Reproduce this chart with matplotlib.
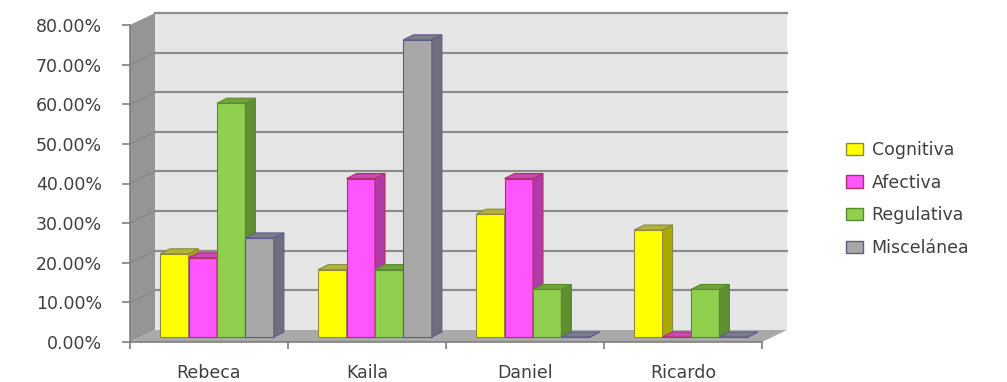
import matplotlib.pyplot as plt
from matplotlib.patches import Polygon, Patch
from matplotlib.transforms import offset_copy

# Data (percent)
students = ['Rebeca', 'Kaila', 'Daniel', 'Ricardo']
series = ['Cognitiva', 'Afectiva', 'Regulativa', 'Miscelánea']
cognitiva = [21, 17, 31, 27]
afectiva = [20, 40, 40, 0]
regulativa = [59, 17, 12, 12]
miscelanea = [25, 75, 0, 0]
yticks = [0, 10, 20, 30, 40, 50, 60, 70, 80]

values = [cognitiva, afectiva, regulativa, miscelanea]
# (front, side, top, edge)
colors = [('#ffff00', '#a9a900', '#b3b33a', '#8a8a40'),
          ('#ff55ff', '#b13aa6', '#c74ab9', '#b0306a'),
          ('#8fd04f', '#5f8f2f', '#6fa33b', '#5a8a30'),
          ('#a8a8a8', '#6e6e7c', '#7c7c8a', '#5c5c8c')]

W, H, DPI = 1007, 382, 100
fig = plt.figure(figsize=(W / DPI, H / DPI), dpi=DPI)
left_px, right_px, bot_px, top_px = 130, 762, 342, 25
ax = fig.add_axes([left_px / W, 1 - bot_px / H,
                   (right_px - left_px) / W, (bot_px - top_px) / H])
ax.set_xlim(-0.5, 3.5)
ax.set_ylim(0, 80)

# pixel -> data conversion
sx = 4.0 / (right_px - left_px)
sy = 80.0 / (bot_px - top_px)

# walls (offset 25 px right, 12 px up)
wx, wy = 25 * sx, 12 * sy
back = Polygon([(-0.5 + wx, wy), (3.5 + wx, wy), (3.5 + wx, 80 + wy), (-0.5 + wx, 80 + wy)],
               closed=True, facecolor='#e6e6e6', edgecolor='none', clip_on=False, zorder=0)
ax.add_patch(back)
for t in yticks[1:]:
    ax.plot([-0.5 + wx, 3.5 + wx], [t + wy, t + wy], color='#8c8c8c', lw=1.6,
            clip_on=False, zorder=0.5)
side = Polygon([(-0.5, 0), (-0.5 + wx, wy), (-0.5 + wx, 80 + wy), (-0.5, 80)],
               closed=True, facecolor='#959595', edgecolor='none', clip_on=False, zorder=0.6)
ax.add_patch(side)
for t in yticks[1:-1]:
    ax.plot([-0.5, -0.5 + wx], [t, t + wy], color='#888888', lw=1.0,
            clip_on=False, zorder=0.7)
floor = Polygon([(-0.5, 0), (3.5, 0), (3.5 + wx, wy), (-0.5 + wx, wy)],
                closed=True, facecolor='#a9a9a9', edgecolor='none', clip_on=False, zorder=0.6)
ax.add_patch(floor)

# bars: front plane shifted (8, 5) px, depth (10, 5) px
tr = offset_copy(ax.transData, fig=fig, x=8, y=5, units='dots')
bw = 0.18
dx, dy = 10 * sx, 5 * sy
z = 2
for i in range(len(students)):
    for j, vals in enumerate(values):
        h = vals[i]
        fc, sc, tc, ec = colors[j]
        x0 = i + (j - 2) * bw
        x1 = x0 + bw
        ax.add_patch(Polygon([(x0, 0), (x1, 0), (x1, h), (x0, h)], closed=True,
                             facecolor=fc, edgecolor=ec, lw=0.8, transform=tr,
                             clip_on=False, zorder=z))
        ax.add_patch(Polygon([(x1, 0), (x1 + dx, dy), (x1 + dx, h + dy), (x1, h)], closed=True,
                             facecolor=sc, edgecolor=ec, lw=0.8, transform=tr,
                             clip_on=False, zorder=z))
        ax.add_patch(Polygon([(x0, h), (x1, h), (x1 + dx, h + dy), (x0 + dx, h + dy)], closed=True,
                             facecolor=tc, edgecolor=ec, lw=0.8, transform=tr,
                             clip_on=False, zorder=z))
        z += 0.01

# axes styling
ax.set_facecolor('none')
for s in ['top', 'right']:
    ax.spines[s].set_visible(False)
for s in ['left', 'bottom']:
    ax.spines[s].set_color('#7f7f7f')
    ax.spines[s].set_linewidth(1.2)
    ax.spines[s].set_zorder(5)

ax.set_yticks(yticks)
ax.set_yticklabels([f'{t:.2f}%' for t in yticks])
ax.tick_params(axis='y', length=6, width=1.2, color='#7f7f7f', pad=14,
               labelsize=12.5, labelcolor='#404040')
ax.set_xticks([-0.5, 0.5, 1.5, 2.5, 3.5])
ax.set_xticklabels([])
ax.tick_params(axis='x', which='major', length=5, width=1.2, color='#7f7f7f')
ax.set_xticks(range(len(students)), minor=True)
ax.set_xticklabels(students, minor=True)
ax.tick_params(axis='x', which='minor', length=0, pad=16, labelsize=12.5, labelcolor='#404040')

handles = [Patch(facecolor=c[0], edgecolor=c[3], lw=1.0) for c in colors]
fig.legend(handles, series, loc='center left', bbox_to_anchor=(830 / W, 1 - 199 / H),
           frameon=False, fontsize=12.5, labelcolor='#404040', handlelength=1.0,
           handleheight=0.7, handletextpad=0.5, labelspacing=0.85)

fig.savefig('out.png', dpi=DPI)
